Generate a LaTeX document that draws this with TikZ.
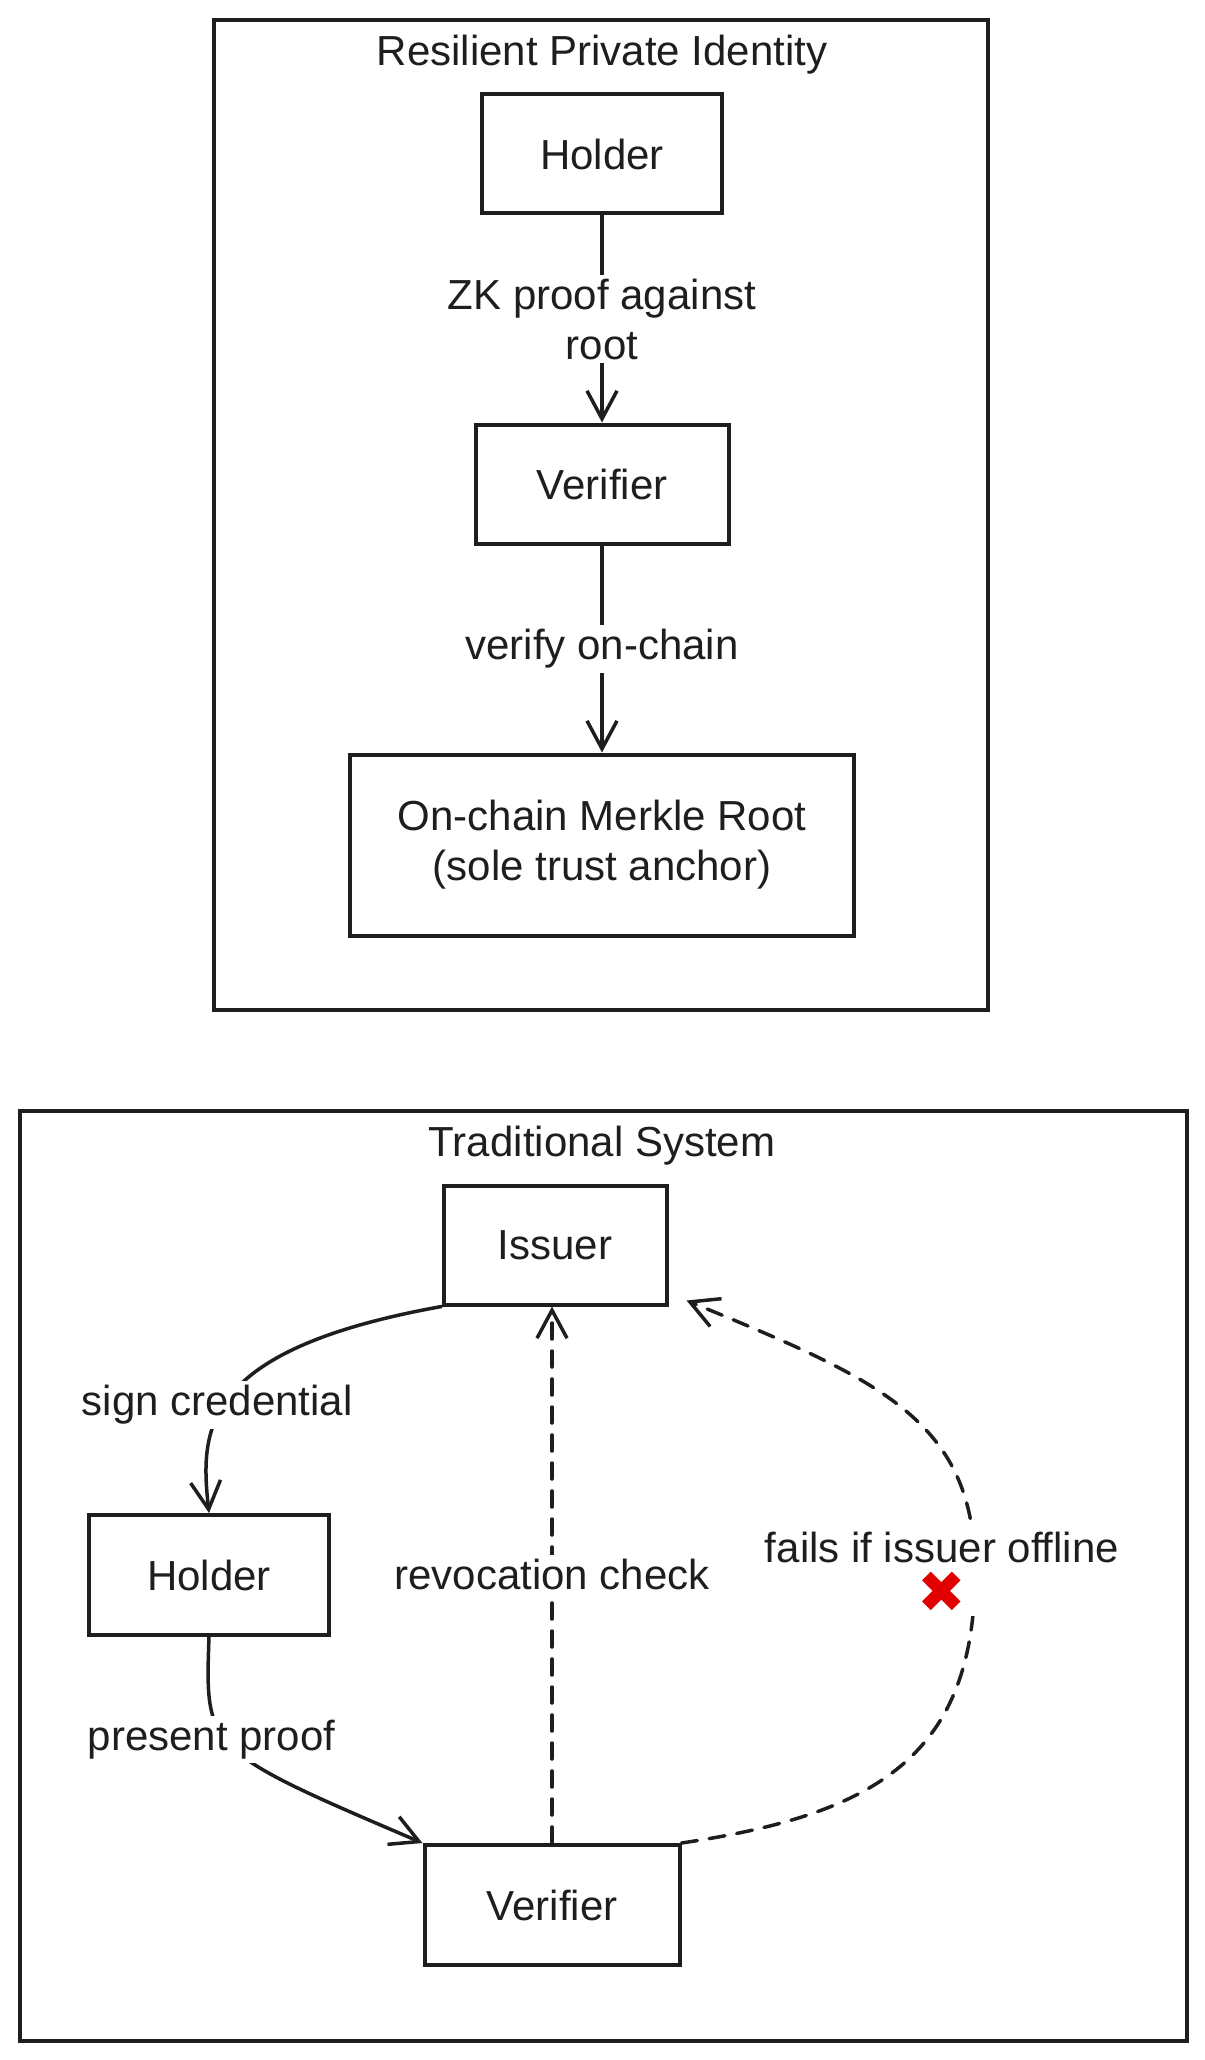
\documentclass[tikz,border=0pt]{standalone}
\usepackage{fontspec}
\setmainfont{Liberation Sans}
\newfontfamily\symfont{DejaVu Sans}
\usetikzlibrary{arrows.meta}
\definecolor{ink}{HTML}{1E1E1E}
\definecolor{xred}{HTML}{E00000}
\begin{document}
\begin{tikzpicture}[x=1pt,y=-1pt,
  every node/.style={font=\fontsize{42}{50}\selectfont, text=ink},
  box/.style={draw=ink, line width=4pt, fill=white, align=center, inner sep=0pt},
  grp/.style={draw=ink, line width=3.5pt, inner sep=0pt},
  lbl/.style={fill=white, align=center, inner sep=4pt},
  conn/.style={draw=ink, line width=3.5pt, line cap=round},
  arr/.style={conn, -{Straight Barb[length=28pt,width=30pt,line width=3.5pt]}},
  dash16/.style={dash pattern=on 16pt off 12pt}
]
\useasboundingbox[fill=white] (0,0) rectangle (1204,2060);

% groups
\node[grp, minimum width=774pt, minimum height=990pt] (topgrp) at (601,515) {};
\node[grp, minimum width=1167pt, minimum height=930pt] (botgrp) at (603.5,1576) {};
\node (ttl1) at (602,55) {Resilient Private Identity};
\node (ttl2) at (602,1146) {Traditional System};

% top nodes
\node[box, minimum width=240pt, minimum height=119pt] (thold) at (602,154) {Holder};
\node[box, minimum width=253pt, minimum height=119pt] (tver) at (602,484) {Verifier};
\node[box, minimum width=504pt, minimum height=181pt] (troot) at (602,845) {On-chain Merkle Root\\(sole trust anchor)};

% bottom nodes
\node[box, minimum width=223pt, minimum height=119pt] (biss) at (555,1245) {Issuer};
\node[box, minimum width=240pt, minimum height=120pt] (bhold) at (209,1575) {Holder};
\node[box, minimum width=255pt, minimum height=120pt] (bver) at (552,1905) {Verifier};

% top edges
\draw[arr] (thold) -- node[lbl] {ZK proof against\\root} (tver);
\draw[arr] (tver) -- node[lbl] {verify on-chain} (troot);

% bottom edges
\draw[arr] (biss.south west) .. controls (200,1350) and (200,1430) .. node[lbl, pos=0.5, xshift=-14pt, yshift=-10pt] {sign credential} (bhold.north);
\draw[arr] (bhold.south) .. controls (205,1750) and (205,1750) .. node[lbl, pos=0.45, xshift=-14pt] {present proof} (bver.north west);
\draw[arr, dash16] (bver.north) -- node[lbl] {revocation check} (bver.north |- biss.south);
\draw[arr, dash16] (bver.north east) .. controls (870,1815) and (975,1760) .. (975,1572)
  node[lbl, xshift=-33pt] (fails) {fails if issuer offline\\{\symfont\fontsize{58}{50}\selectfont\color{xred}✖}}
  .. controls (975,1420) and (880,1380) .. ([shift={(18,-6)}]biss.south east);
\end{tikzpicture}
\end{document}
